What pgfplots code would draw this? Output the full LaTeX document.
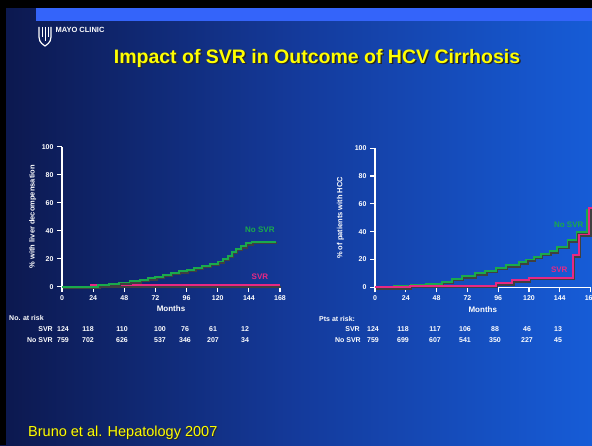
\documentclass[border=0pt]{standalone}
\usepackage{pgfplots}
\pgfplotsset{compat=1.18}
\usepackage{fontspec}
\setmainfont{Liberation Sans}
\definecolor{bgdark}{RGB}{12,24,78}
\definecolor{bgmid}{RGB}{20,58,155}
\definecolor{bglight}{RGB}{22,92,215}
\definecolor{barblue}{RGB}{52,100,250}
\definecolor{ttlyellow}{RGB}{255,255,0}
\definecolor{nsvrgreen}{RGB}{26,170,76}
\definecolor{svrpink}{RGB}{232,40,132}
\pgfplotstableread{
m p
0 0
28 1
36 2
44 3
52 4
60 5
66 6
72 7
78 8.5
84 10
90 11
96 12
102 13.5
108 15
114 16.5
120 18
124 20
128 22
131 25
134 27
138 29
142 31
146 32
165 32
}\leftgreen
\pgfplotstableread{
m p
0 0
22 1
168 1
}\leftpink
\pgfplotstableread{
m p
0 0
15 1
28 1.5
40 2.5
52 4
60 6
68 8
78 10
86 12
94 14
102 16
112 18
118 20
124 22
129 24
136 26
142 29
150 34
157 40
165 56
171 56
}\rightgreen
\pgfplotstableread{
m p
0 0
27 1
94 3
107 5
120 7
154 23
159 38
167 57
171 57
}\rightpink
\pgfplotsset{
  kmaxis/.style={
    scale only axis, anchor=south west, clip=false,
    xmin=0, xmax=168, ymin=0, ymax=100,
    axis x line=bottom, axis y line=left,
    axis line style={white, line width=1.5pt, -},
    xtick={0,24,...,168}, ytick={0,20,...,100},
    tick style={white, line width=1.2pt},
    tick align=outside, major tick length=5pt,
    ticklabel style={white, font=\bfseries\fontsize{7}{8}\selectfont},
    /pgf/number format/assume math mode=true,
    xlabel={Months},
    xlabel style={white, font=\bfseries\fontsize{8}{9}\selectfont, at={(axis description cs:0.5,-0.16)}, anchor=center},
    ylabel style={white, font=\bfseries\fontsize{7.5}{8}\selectfont, anchor=center},
  },
  kmshadow/.style={const plot, black!75, line width=2pt, xshift=1.2pt, yshift=-1.5pt},
  kmline/.style={const plot, line width=1.9pt},
}
\begin{document}
\begin{tikzpicture}[x=1pt,y=1pt]
\clip (0,0) rectangle (592,445);
\shade[left color=bgdark, right color=bglight, middle color=bgmid] (0,0) rectangle (592,445);
\fill[black] (0,437) rectangle (592,445);
\fill[black] (0,0) rectangle (6,445);
\fill[barblue] (36,424) rectangle (592,437);
% logo
\draw[white, line width=1.2pt] (39,418) -- (39,408) .. controls (39,402) and (44,400) .. (45,399) .. controls (46,400) and (51,402) .. (51,408) -- (51,418);
\draw[white, line width=1pt] (42,418) -- (42,408) (45,418) -- (45,404) (48,418) -- (48,408);
\node[white, anchor=west, font=\fontsize{7.5}{8}\selectfont\bfseries] at (52,415) {MAYO CLINIC};
% title
\node[black!85, font=\bfseries\fontsize{19.5}{21}\selectfont] at (318.5,385.5) {Impact of SVR in Outcome of HCV Cirrhosis};
\node[ttlyellow, font=\bfseries\fontsize{19.5}{21}\selectfont] at (317,387) {Impact of SVR in Outcome of HCV Cirrhosis};
% citation
\node[black!85, anchor=west, inner sep=0pt, font=\fontsize{14.5}{16}\selectfont] at (29,11) {Bruno et al. Hepatology 2007};
\node[ttlyellow, anchor=west, inner sep=0pt, font=\fontsize{14.5}{16}\selectfont] at (28,12) {Bruno et al. Hepatology 2007};
% left plot
\begin{axis}[kmaxis, at={(62pt,158.3pt)}, width=218pt, height=140pt,
  ylabel={\% with liver decompensation},
  ylabel style={at={(axis description cs:-0.135,0.5)}}]
\addplot[kmshadow] table[x=m,y=p] {\leftpink};
\addplot[kmline, svrpink] table[x=m,y=p] {\leftpink};
\addplot[kmshadow] table[x=m,y=p] {\leftgreen};
\addplot[kmline, nsvrgreen] table[x=m,y=p] {\leftgreen};
\node[nsvrgreen, font=\bfseries\fontsize{8}{9}\selectfont] at (axis cs:152.5,40.5) {No SVR};
\node[svrpink, font=\bfseries\fontsize{8}{9}\selectfont] at (axis cs:152.5,7) {SVR};
\end{axis}
% right plot
\begin{axis}[kmaxis, at={(375pt,157.7pt)}, width=215.6pt, height=139pt,
  ylabel={\% of patients with HCC},
  ylabel style={at={(axis description cs:-0.16,0.5)}}]
\addplot[kmshadow] table[x=m,y=p] {\rightgreen};
\addplot[kmline, nsvrgreen] table[x=m,y=p] {\rightgreen};
\addplot[kmshadow] table[x=m,y=p] {\rightpink};
\addplot[kmline, svrpink] table[x=m,y=p] {\rightpink};
\node[nsvrgreen, font=\bfseries\fontsize{8}{9}\selectfont] at (axis cs:151,44.8) {No SVR};
\node[svrpink, font=\bfseries\fontsize{8}{9}\selectfont] at (axis cs:143.6,12.4) {SVR};
\end{axis}
% risk tables
\begin{scope}[every node/.style={white, inner sep=1pt, font=\bfseries\fontsize{7}{8}\selectfont}]
\node[anchor=west] at (8,127) {No. at risk};
\node[anchor=east] at (54,116) {SVR};
\node[anchor=east] at (54,105) {No SVR};
\foreach \x/\a/\b in {63/124/759, 88/118/702, 122/110/626, 160/100/537, 185/76/346, 213/61/207, 245/12/34}
  {\node at (\x,116) {\a}; \node at (\x,105) {\b};}
\node[anchor=west] at (318,126) {Pts at risk:};
\node[anchor=east] at (361,116) {SVR};
\node[anchor=east] at (362,105) {No SVR};
\foreach \x/\a/\b in {373/124/759, 403/118/699, 435/117/607, 465/106/541, 495/88/350, 527/46/227, 558/13/45}
  {\node at (\x,116) {\a}; \node at (\x,105) {\b};}
\end{scope}
\end{tikzpicture}
\end{document}
